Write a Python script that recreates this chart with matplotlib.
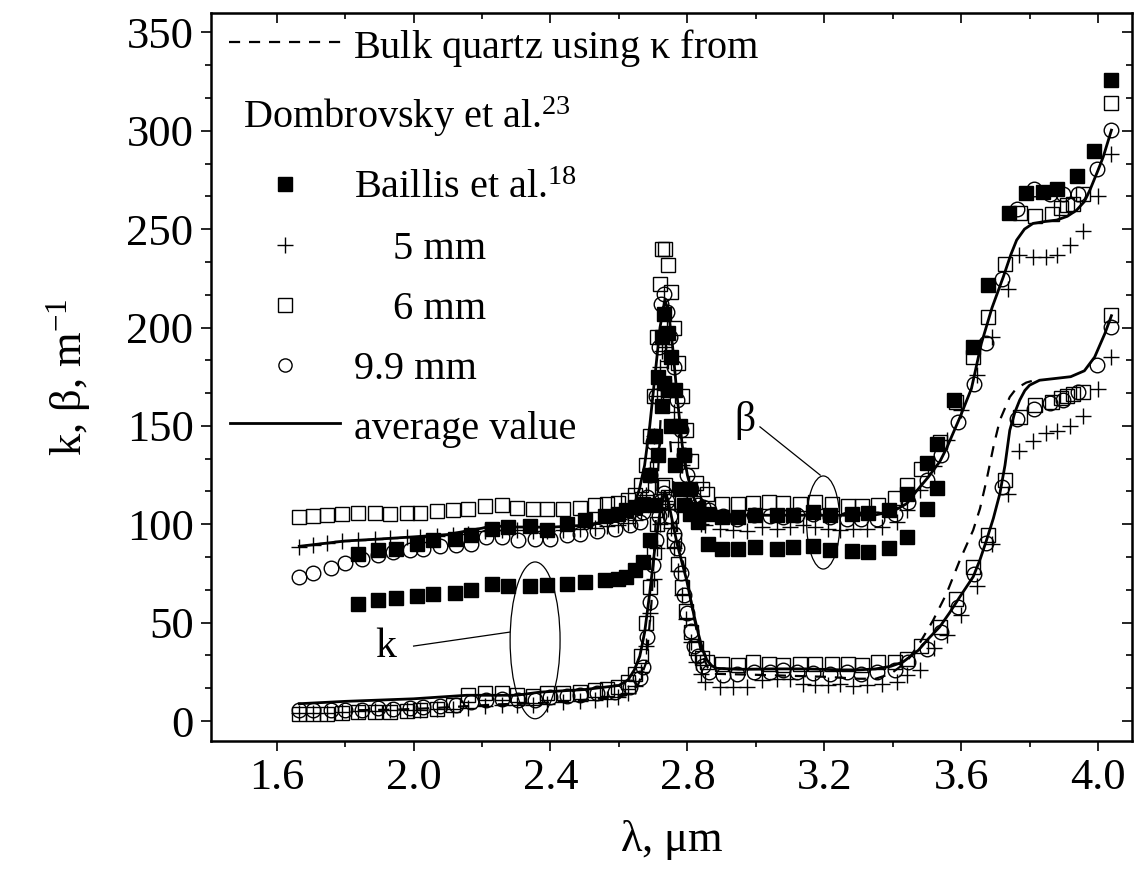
import matplotlib
matplotlib.use('Agg')
import matplotlib.pyplot as plt
from matplotlib.patches import Ellipse
from matplotlib.ticker import MultipleLocator, AutoMinorLocator

plt.rcParams['font.family'] = ['Liberation Serif', 'DejaVu Serif']
plt.rcParams['mathtext.fontset'] = 'custom'
plt.rcParams['mathtext.rm'] = 'Liberation Serif'
plt.rcParams['mathtext.it'] = 'Liberation Serif:italic'

# 6 mm sample (open squares)
lam_6 = [1.666, 1.707, 1.746, 1.790, 1.838, 1.887, 1.931, 1.980, 2.019, 2.067, 2.116, 2.160,
         2.208, 2.257, 2.301, 2.350, 2.389, 2.437, 2.486, 2.530, 2.566, 2.598, 2.627, 2.647,
         2.665, 2.680, 2.692, 2.703, 2.712, 2.720, 2.727, 2.735, 2.744, 2.753, 2.762, 2.772,
         2.783, 2.795, 2.810, 2.826, 2.842,
         2.857, 2.900, 2.949, 2.993, 3.037, 3.080, 3.129, 3.173, 3.222, 3.270, 3.309, 3.358,
         3.406, 3.441,
         3.484, 3.537, 3.586, 3.635, 3.679, 3.728, 3.771, 3.815, 3.864, 3.893, 3.910, 3.927,
         3.957, 4.039]
beta_6 = [103.7, 104.0, 104.6, 105.1, 105.8, 105.8, 105.4, 105.8, 105.8, 106.8, 107.4, 107.9,
          109.1, 109.6, 108.5, 107.9, 107.9, 107.9, 108.5, 109.6, 110.2, 110.9, 112.2, 114.7,
          120, 130, 145, 165, 195, 222, 240, 240, 232, 218, 200, 182,
          165, 148, 132, 121, 118,
          115.6, 110.5, 110.5, 110.9, 111.4, 110.9, 110.5, 111.4, 110.5, 109.2, 109.2, 109.7,
          113.1, 119.9,
          128, 142, 162, 185, 205.4, 232.5, 258.0, 256.6, 257.6, 260.5, 262.2, 263.0,
          268.1, 314.2]
k_6 = [3.8, 3.8, 3.8, 4.1, 4.6, 4.6, 4.6, 5.1, 5.5, 6.3, 8.0, 13.1,
       14.0, 14.0, 13.0, 12.5, 14.0, 14.0, 14.8, 15.6, 16.5, 17.3, 19.8, 24.0,
       33, 50, 68, 86, 100, 112, 119, 120, 114, 104, 92, 80,
       68, 56, 45, 37, 32,
       30.0, 29.2, 28.3, 30.0, 28.8, 28.3, 28.8, 29.2, 28.8, 29.2, 28.3, 30.0,
       30.0, 31.7,
       38, 47.8, 62.2, 78.4, 94.5, 122.4, 154.6, 160.6, 162.3, 164, 165, 166,
       167, 206.6]

# 9.9 mm sample (open circles)
lam_99 = [1.666, 1.707, 1.760, 1.799, 1.848, 1.897, 1.940, 1.989, 2.028, 2.077, 2.125, 2.169,
          2.213, 2.257, 2.306, 2.354, 2.398, 2.447, 2.486, 2.535, 2.589, 2.632, 2.661,
          2.671, 2.681, 2.690, 2.700, 2.708, 2.716, 2.724, 2.732, 2.741, 2.750, 2.760, 2.770,
          2.780, 2.790, 2.800, 2.810, 2.820, 2.832, 2.847,
          2.862, 2.905, 2.944, 2.995, 3.040, 3.080, 3.119, 3.168, 3.217, 3.266, 3.307, 3.355,
          3.407,
          3.445, 3.499, 3.541, 3.591, 3.638, 3.672, 3.720, 3.762, 3.812, 3.860, 3.898, 3.941,
          3.998, 4.039]
beta_99 = [73.2, 75.3, 78.0, 80.4, 82.6, 84.3, 86.0, 86.8, 87.6, 89.0, 89.3, 90.2,
           93.6, 93.6, 92.2, 92.7, 92.7, 94.4, 94.9, 96.6, 97.8, 99.5, 101.2,
           106, 114, 125, 142, 165, 190, 212, 217, 208, 195, 180, 163,
           148, 135, 125, 118, 113, 110, 108.8,
           107.0, 104.1, 102.9, 104.6, 104.2, 103.7, 104.6, 105.4, 103.7, 102.9, 102.9, 102.9,
           105.4,
           111.4, 122.4, 135.1, 152.1, 171.5, 192.2, 224.4, 260.0, 270.2, 268.1, 268.1, 268.1,
           280.8, 300.6]
k_99 = [5.5, 5.5, 5.5, 5.5, 5.8, 6.4, 6.2, 6.4, 7.1, 7.5, 8.0, 9.7,
        10.5, 11.4, 10.8, 10.8, 12.2, 12.5, 13.1, 14.0, 14.8, 17.3, 22.0,
        27.5, 42.7, 60.5, 79.2, 92, 104, 112, 116, 112, 104, 95, 88,
        75, 64, 55, 46, 38, 33, 28,
        25.0, 23.3, 24.1, 25.0, 25.0, 25.9, 25.0, 24.4, 24.1, 25.0, 24.1, 25.0,
        25.9,
        30.0, 36.6, 45.2, 57.9, 74.9, 90.5, 119.0, 153.7, 158.8, 161.4, 163.0, 167.2,
        181.0, 200.3]

# 5 mm sample (crosses)
lam_5 = [1.666, 1.707, 1.746, 1.790, 1.838, 1.887, 1.931, 1.980, 2.019, 2.067, 2.116, 2.160,
         2.208, 2.257, 2.301, 2.350, 2.389, 2.437, 2.486, 2.530, 2.566, 2.598, 2.627, 2.647,
         2.665, 2.680, 2.692, 2.703, 2.712, 2.720, 2.727, 2.735, 2.744, 2.753, 2.762, 2.772,
         2.783, 2.795, 2.810, 2.826, 2.840,
         2.851, 2.895, 2.934, 2.973, 3.017, 3.061, 3.100, 3.139, 3.173, 3.212, 3.246, 3.285,
         3.324, 3.368, 3.412,
         3.441, 3.480, 3.520, 3.559, 3.600, 3.645, 3.690, 3.738, 3.768, 3.810, 3.849, 3.879,
         3.917, 3.957, 3.999, 4.039]
beta_5 = [88.5, 89.6, 90.5, 91.3, 92.0, 92.6, 93.0, 93.4, 93.7, 94.0, 94.5, 95.0,
          96.5, 97.3, 97.0, 96.8, 96.8, 97.3, 97.8, 98.3, 99.0, 99.5, 100.5, 102.0,
          106, 115, 128, 145, 165, 180, 188, 190, 183, 170, 157, 142,
          130, 118, 108, 102, 100,
          99.5, 97.8, 97.3, 96.6, 98.6, 97.8, 98.6, 99.5, 98.6, 97.8, 97.3, 97.8,
          97.8, 98.6, 101.2,
          107.1, 117.6, 129.5, 142.7, 158.0, 176, 195.2, 219.8, 236.8, 235.9, 235.6, 236.8,
          241.9, 249.0, 266.8, 288.1]
k_5 = [4.0, 4.0, 4.2, 4.5, 5.0, 5.2, 5.5, 5.5, 5.8, 6.0, 6.3, 6.8,
       7.5, 8.0, 8.0, 8.0, 8.5, 9.5, 10.0, 10.5, 11.0, 12.0, 14.0, 18.0,
       25, 38, 55, 72, 88, 100, 108, 112, 108, 98, 88, 76,
       64, 52, 40, 30, 24,
       20.0, 17.4, 17.3, 17.3, 20.7, 21.5, 21.5, 19.0, 18.1, 18.1, 19.0, 17.8,
       18.1, 19.0, 19.8,
       23.2, 26.1, 37.1, 43.9, 54.1, 68.5, 89.8, 115.2, 137.2, 142.3, 146.6, 147.4,
       150.0, 155.0, 168.6, 185.0]

# Baillis et al. (filled squares)
lam_b = [1.838, 1.897, 1.950, 2.009, 2.057, 2.121, 2.169, 2.228, 2.276, 2.340, 2.389, 2.447,
         2.500, 2.559, 2.598, 2.622, 2.647, 2.671,
         2.690, 2.705, 2.715, 2.725, 2.733, 2.742, 2.752, 2.765, 2.778, 2.790, 2.808, 2.830,
         2.861, 2.900, 2.949, 2.997, 3.061, 3.110, 3.168, 3.217, 3.280, 3.329, 3.390, 3.441,
         3.499, 3.528, 3.580, 3.635, 3.679, 3.740, 3.789, 3.838, 3.879, 3.939, 3.988, 4.039]
beta_b = [85.1, 86.8, 87.6, 90.2, 91.9, 92.7, 94.4, 97.8, 98.6, 99.0, 97.3, 100.3,
          102.0, 104.1, 105.4, 107.1, 108.8, 110.5,
          125, 145, 175, 195, 207, 197, 185, 168, 150, 135, 118, 108,
          105.4, 103.7, 103.7, 104.6, 104.6, 104.6, 106.2, 104.6, 105.1, 105.8, 107.1, 115.6,
          131.2, 140.7, 163.4, 190.1, 221.5, 258.0, 268.5, 269.0, 270.2, 276.9, 289.6, 325.7]
lam_bk = lam_b[:44]
k_b = [59.7, 61.4, 62.7, 63.4, 64.4, 65.1, 66.8, 69.5, 68.5, 68.5, 69.0, 69.5,
       70.7, 71.5, 72.4, 73.2, 76.6, 80.9,
       92, 110, 135, 160, 172, 168, 150, 130, 118, 110, 105, 101.2,
       90.2, 87.6, 87.6, 88.5, 87.6, 88.5, 88.8, 87.1, 86.4, 85.9, 88.1, 93.6,
       107.8, 118.6]

# average over samples (solid lines)
lam_avg_b = [1.666, 1.80, 1.90, 2.00, 2.10, 2.155, 2.20, 2.228, 2.30, 2.40, 2.50, 2.55,
             2.60, 2.627, 2.645, 2.660, 2.675, 2.690, 2.705, 2.720, 2.734, 2.745, 2.757, 2.770,
             2.785, 2.800, 2.815, 2.830, 2.850, 2.870, 2.95, 3.10, 3.20, 3.30, 3.35, 3.40,
             3.441, 3.470, 3.504, 3.538, 3.557, 3.597, 3.630, 3.659, 3.690, 3.723, 3.745, 3.762,
             3.785, 3.810, 3.850, 3.879, 3.910, 3.937, 3.960, 3.976, 4.000, 4.015, 4.039]
avg_b = [88.8, 91.5, 92.5, 93.6, 94.8, 96.6, 98.0, 99.2, 98.6, 98.5, 99.5, 101.0,
         103.0, 105.4, 110, 118, 130, 150, 175, 200, 214, 208, 190, 165,
         140, 125, 115, 109, 106, 104.8, 104.6, 104.6, 104.6, 104.6, 104.8, 106.5,
         110.5, 117, 124, 132, 138.5, 154.6, 169, 191.9, 210, 225.7, 237, 244.4,
         250, 252.9, 254, 254.6, 256.5, 259.6, 264, 269.8, 280, 286.7, 300.3]
lam_avg_k = [1.666, 1.80, 2.00, 2.155, 2.30, 2.37, 2.50, 2.60, 2.627, 2.645, 2.661, 2.675,
             2.690, 2.705, 2.720, 2.734, 2.745, 2.758, 2.770, 2.785, 2.798, 2.815, 2.832, 2.845,
             2.857, 2.872, 2.886, 2.95, 3.05, 3.15, 3.25, 3.30, 3.35, 3.394, 3.43, 3.475,
             3.505, 3.537, 3.566, 3.596, 3.635, 3.655, 3.674, 3.694, 3.713, 3.728, 3.742, 3.757,
             3.771, 3.786, 3.800, 3.829, 3.87, 3.92, 3.96, 3.99, 4.02, 4.039]
avg_k = [8.8, 10.0, 11.3, 13.1, 13.1, 14.7, 16.0, 18.1, 21, 26, 33, 45,
         65, 88, 106, 116.4, 111, 100, 90, 80, 71.5, 57, 44.4, 36,
         31, 28, 26.8, 26.3, 26.5, 26.5, 26.0, 26.0, 26.5, 27.8, 30, 36,
         42, 47.8, 55, 63.1, 73.3, 82, 91.9, 103, 115.6, 130, 147.8, 157,
         163.1, 168, 170.7, 173.2, 174, 175, 178, 185, 197, 206]

# bulk quartz, kappa from Dombrovsky et al. (dashed)
lam_bulk = [1.838, 1.95, 2.05, 2.15, 2.25, 2.35, 2.45, 2.55, 2.62, 2.655, 2.68, 2.695,
            2.71, 2.722, 2.732, 2.742, 2.755, 2.77, 2.785, 2.80, 2.82, 2.84, 2.86, 2.88,
            3.0, 3.1, 3.2, 3.3, 3.35, 3.394, 3.44, 3.48, 3.518, 3.557, 3.596, 3.635,
            3.655, 3.674, 3.695, 3.713, 3.742, 3.761, 3.79, 3.83]
k_bulk = [5.5, 5.8, 6.5, 7.5, 8.5, 9.0, 10.0, 11.5, 13.0, 18, 30, 60,
          110, 155, 170, 162, 130, 96, 82, 72, 52, 35, 27, 24,
          23.5, 23.0, 22.5, 21.5, 21.5, 24, 30, 40, 51.2, 64.7, 81.7, 97,
          108, 122.4, 140, 152.9, 164.7, 169, 172, 174]

fig = plt.figure(figsize=(11.38, 8.74), dpi=100)
ax = fig.add_axes([0.1854, 0.1525, 0.8096, 0.833])

ms = 9.5
ax.plot(lam_bulk, k_bulk, color='black', lw=1.6, ls=(0, (5, 4)), zorder=3)
ax.plot(lam_6, beta_6, ls='none', marker='s', ms=ms, mfc='none', mec='black', mew=1.0)
ax.plot(lam_6, k_6, ls='none', marker='s', ms=ms, mfc='none', mec='black', mew=1.0)
ax.plot(lam_5, beta_5, ls='none', marker='+', ms=ms + 2, mec='black', mew=1.0)
ax.plot(lam_5, k_5, ls='none', marker='+', ms=ms + 2, mec='black', mew=1.0)
ax.plot(lam_99, beta_99, ls='none', marker='o', ms=ms + 1, mfc='none', mec='black', mew=1.0)
ax.plot(lam_99, k_99, ls='none', marker='o', ms=ms + 1, mfc='none', mec='black', mew=1.0)
ax.plot(lam_b, beta_b, ls='none', marker='s', ms=ms, color='black')
ax.plot(lam_bk, k_b, ls='none', marker='s', ms=ms, color='black')
ax.plot(lam_avg_b, avg_b, color='black', lw=2.0, zorder=4)
ax.plot(lam_avg_k, avg_k, color='black', lw=2.0, zorder=4)

# ellipses marking the two groups of curves
ax.add_patch(Ellipse((2.355, 41.0), 0.146, 79.7, fill=False, lw=0.9, ec='black'))
ax.plot([2.0, 2.281], [38.1, 45.2], color='black', lw=0.9)
ax.text(1.918, 38.0, 'k', fontsize=30, ha='center', va='center')
ax.add_patch(Ellipse((3.197, 100.9), 0.097, 47.3, fill=False, lw=0.9, ec='black'))
ax.plot([3.012, 3.188], [149.5, 125.0], color='black', lw=0.9)
ax.text(2.968, 152.9, r'$\mathregular{\beta}$', fontsize=30, ha='center', va='center')

ax.set_xlim(1.408, 4.1)
ax.set_ylim(-10, 360)
ax.xaxis.set_major_locator(MultipleLocator(0.4))
ax.xaxis.set_minor_locator(AutoMinorLocator(2))
ax.yaxis.set_major_locator(MultipleLocator(50))
ax.yaxis.set_minor_locator(AutoMinorLocator(3))
ax.xaxis.set_major_formatter(plt.FormatStrFormatter('%.1f'))
ax.tick_params(which='both', direction='out', width=1.2, labelsize=32, pad=5)
ax.tick_params(which='major', length=7.5)
ax.tick_params(which='minor', length=4)
for sp in ax.spines.values():
    sp.set_linewidth(1.8)

# mirrored ticks on top and right point inwards
top = ax.secondary_xaxis('top')
top.xaxis.set_major_locator(MultipleLocator(0.4))
top.xaxis.set_minor_locator(AutoMinorLocator(2))
top.tick_params(which='both', direction='in', width=1.2, labeltop=False)
top.tick_params(which='major', length=7.5)
top.tick_params(which='minor', length=4)
right = ax.secondary_yaxis('right')
right.yaxis.set_major_locator(MultipleLocator(50))
right.yaxis.set_minor_locator(AutoMinorLocator(3))
right.tick_params(which='both', direction='in', width=1.2, labelright=False)
right.tick_params(which='major', length=7.5)
right.tick_params(which='minor', length=4)

ax.set_xlabel(r'$\mathregular{\lambda}$, $\mathregular{\mu}$m', fontsize=32, labelpad=14)
ax.set_ylabel(r'k, $\mathregular{\beta}$, m$^{\mathregular{-1}}$', fontsize=32, labelpad=24)

# legend drawn by hand
tr = ax.transAxes
lfs = 29
ax.plot([0.0195, 0.142], [0.9598, 0.9598], transform=tr, color='black', lw=1.6,
        ls=(0, (5, 4)), clip_on=False)
ax.text(0.154, 0.9374, r'Bulk quartz using $\mathregular{\kappa}$ from', transform=tr,
        fontsize=lfs, va='baseline')
ax.text(0.0347, 0.8412, r'Dombrovsky et al.$^{\mathregular{23}}$', transform=tr,
        fontsize=lfs, va='baseline')
rows = [(0.745, 's', 'black', 0.1552, r'Baillis et al.$^{\mathregular{18}}$'),
        (0.662, '+', 'black', 0.1975, '5 mm'),
        (0.5793, 's', 'none', 0.1975, '6 mm'),
        (0.4966, 'o', 'none', 0.1552, '9.9 mm')]
for yb, mk, fc, xt, lab in rows:
    size = ms + 2 if mk == '+' else ms
    ax.plot([0.0806], [yb + 0.019], transform=tr, ls='none', marker=mk, ms=size,
            mfc=fc, mec='black', mew=1.0, clip_on=False)
    ax.text(xt, yb, lab, transform=tr, fontsize=lfs, va='baseline')
ax.plot([0.0206, 0.140], [0.4366, 0.4366], transform=tr, color='black', lw=2.0)
ax.text(0.1552, 0.414, 'average value', transform=tr, fontsize=lfs, va='baseline')

fig.savefig('out.png', dpi=100)
